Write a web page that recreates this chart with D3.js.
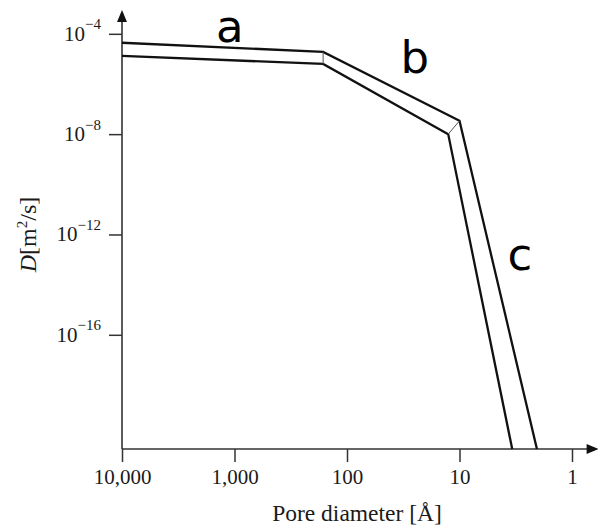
<!DOCTYPE html>
<html>
<head>
<meta charset="utf-8">
<script src="https://cdn.jsdelivr.net/npm/d3@7"></script>
<style>
  html, body { margin: 0; padding: 0; background: #fff; }
  svg { display: block; }
  .tick text { font-family: "Liberation Serif", "DejaVu Serif", serif; fill: #1a1a1a; }
</style>
</head>
<body>
<svg id="chart" width="598" height="532"></svg>
<script>
// Pore diameter (Å) and diffusivity (m²/s) along the two edges of the band
const upperDiameter = [10000, 163, 10, 2.05];
const upperD        = [4.4e-5, 1.9e-5, 3.4e-8, 2.8e-21];
const lowerDiameter = [10000, 163, 12.6, 3.4];
const lowerD        = [1.32e-5, 6.3e-6, 1.0e-8, 2.8e-21];

// Axis ticks
const xTicks = [10000, 1000, 100, 10, 1];
const yTickExponents = [-4, -8, -12, -16];

// Regime labels: a = molecular, b = Knudsen, c = configurational
const regimeNames    = ["a", "b", "c"];
const regimeDiameter = [1100, 25, 2.9];
const regimeD        = [4.8e-5, 2.8e-6, 3.9e-14];

const xDomain = [10000, 1];
const yDomain = [2.8e-21, 8.9e-4];
const xEnd = 0.58;

const svg = d3.select("#chart");

const x = d3.scaleLog().domain(xDomain).range([122, 572]);
const y = d3.scaleLog().domain(yDomain).range([449, 10]);

const axisColor = "#333";

// x axis
const xAxis = d3.axisBottom(x)
  .tickValues(xTicks)
  .tickFormat(d3.format(","))
  .tickSize(13)
  .tickPadding(7);
const gx = svg.append("g").attr("transform", `translate(0,${y(yDomain[0])})`).call(xAxis);
gx.select(".domain").remove();
gx.selectAll(".tick line").attr("stroke", axisColor).attr("stroke-width", 1.5);
gx.selectAll(".tick text").attr("font-size", 21);

// y axis
const yAxis = d3.axisLeft(y)
  .tickValues(yTickExponents.map(e => Math.pow(10, e)))
  .tickFormat("")
  .tickSize(13)
  .tickPadding(8);
const gy = svg.append("g").attr("transform", `translate(${x(xDomain[0])},0)`).call(yAxis);
gy.select(".domain").remove();
gy.selectAll(".tick line").attr("stroke", axisColor).attr("stroke-width", 1.5);
gy.selectAll(".tick").each(function (d, i) {
  const t = d3.select(this).select("text")
    .attr("font-size", 21)
    .attr("dy", "0.3em");
  t.append("tspan").text("10");
  t.append("tspan")
    .attr("font-size", 15)
    .attr("dy", "-0.75em")
    .text("\u2212" + Math.abs(yTickExponents[i]));
});

// axis lines with arrowheads
const x0 = x(xDomain[0]), yBase = y(yDomain[0]);
const xRight = x(xEnd), yTop = y(yDomain[1]);
svg.append("line")
  .attr("x1", x0).attr("y1", yBase).attr("x2", x0).attr("y2", yTop + 8)
  .attr("stroke", axisColor).attr("stroke-width", 1.6);
svg.append("line")
  .attr("x1", x0).attr("y1", yBase).attr("x2", xRight - 8).attr("y2", yBase)
  .attr("stroke", axisColor).attr("stroke-width", 1.6);
svg.append("path")
  .attr("d", `M${x0},${yTop} L${x0 - 5},${yTop + 12} L${x0 + 5},${yTop + 12} Z`)
  .attr("fill", "#111");
svg.append("path")
  .attr("d", `M${xRight},${yBase} L${xRight - 12},${yBase - 5} L${xRight - 12},${yBase + 5} Z`)
  .attr("fill", "#111");

// band edges
const line = d3.line().x(d => x(d[0])).y(d => y(d[1]));
const upper = upperDiameter.map((v, i) => [v, upperD[i]]);
const lower = lowerDiameter.map((v, i) => [v, lowerD[i]]);
[upper, lower].forEach(pts => {
  svg.append("path")
    .attr("d", line(pts))
    .attr("fill", "none")
    .attr("stroke", "#111")
    .attr("stroke-width", 2.3)
    .attr("stroke-linejoin", "miter");
});

// thin connectors across the band at the two knees
[1, 2].forEach(i => {
  svg.append("line")
    .attr("x1", x(upper[i][0])).attr("y1", y(upper[i][1]))
    .attr("x2", x(lower[i][0])).attr("y2", y(lower[i][1]))
    .attr("stroke", "#555").attr("stroke-width", 1);
});

// regime labels
svg.selectAll("text.regime")
  .data(regimeNames)
  .join("text")
  .attr("class", "regime")
  .attr("x", (d, i) => x(regimeDiameter[i]))
  .attr("y", (d, i) => y(regimeD[i]))
  .attr("text-anchor", "middle")
  .attr("font-family", "DejaVu Sans, sans-serif")
  .attr("font-size", 45)
  .attr("fill", "#000")
  .text(d => d);

// axis titles
svg.append("text")
  .attr("x", (x(10000) + x(1)) / 2 + 10)
  .attr("y", 521)
  .attr("text-anchor", "middle")
  .attr("font-family", "Liberation Serif, serif")
  .attr("font-size", 23.5)
  .attr("fill", "#1a1a1a")
  .text("Pore diameter [Å]");

const yTitle = svg.append("text")
  .attr("transform", `translate(36,${(y(1e-8) + y(1e-16)) / 2}) rotate(-90)`)
  .attr("text-anchor", "middle")
  .attr("font-family", "Liberation Serif, serif")
  .attr("font-size", 24)
  .attr("fill", "#1a1a1a");
yTitle.append("tspan").attr("font-style", "italic").text("D");
yTitle.append("tspan").text("[m");
yTitle.append("tspan").attr("font-size", 15).attr("dy", "-0.6em").text("2");
yTitle.append("tspan").attr("dy", "0.38em").text("/s]");
</script>
</body>
</html>
